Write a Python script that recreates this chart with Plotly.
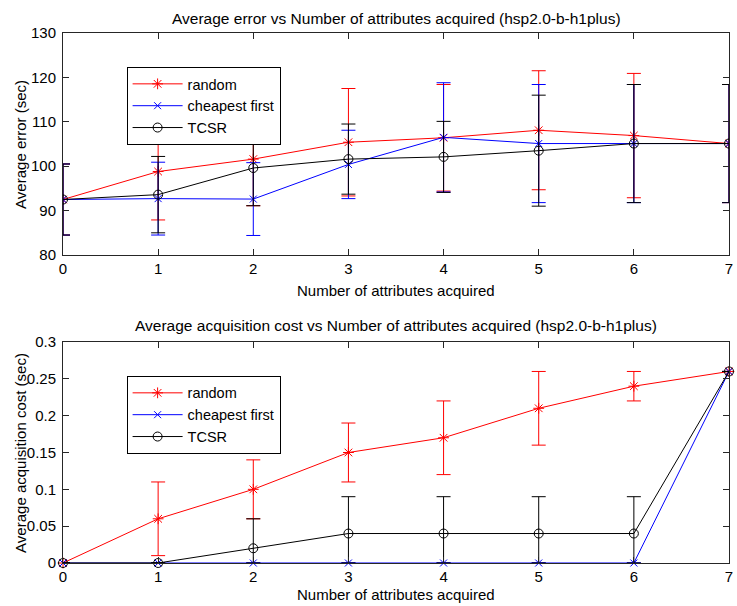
import plotly.graph_objects as go

# ---------------- data ----------------
n_attr = [0, 1, 2, 3, 4, 5, 6, 7]
x_ticks = [0, 1, 2, 3, 4, 5, 6, 7]

# average error (sec)
random_err = [92.5, 98.8, 101.6, 105.4, 106.4, 108.1, 106.9, 105.1]
random_err_sd = [8.0, 10.9, 10.5, 12.1, 12.0, 13.4, 14.0, 13.3]
cheap_err = [92.5, 92.7, 92.6, 100.4, 106.5, 105.1, 105.1, 105.1]
cheap_err_sd = [8.0, 8.2, 8.2, 7.7, 12.3, 13.3, 13.3, 13.3]
tcsr_err = [92.5, 93.6, 99.6, 101.6, 102.1, 103.5, 105.1, 105.1]
tcsr_err_sd = [8.0, 8.6, 8.5, 7.9, 8.0, 12.5, 13.3, 13.3]

# average acquisition cost (sec)
random_cost = [0.0, 0.06, 0.10, 0.15, 0.17, 0.21, 0.24, 0.26]
random_cost_sd = [0.0, 0.05, 0.04, 0.04, 0.05, 0.05, 0.02, 0.0]
cheap_cost = [0.0, 0.0, 0.0, 0.0, 0.0, 0.0, 0.0, 0.26]
cheap_cost_sd = [0.0, 0.0, 0.0, 0.0, 0.0, 0.0, 0.0, 0.0]
tcsr_cost = [0.0, 0.0, 0.02, 0.04, 0.04, 0.04, 0.04, 0.26]
tcsr_cost_sd = [0.0, 0.0, 0.04, 0.05, 0.05, 0.05, 0.05, 0.0]

series_names = ["random", "cheapest first", "TCSR"]
colors = ["#ff0000", "#0000ff", "#000000"]
symbols = ["asterisk-open", "x-thin-open", "circle-open"]
sizes = [9, 7, 9]

FONT = "Liberation Sans, Arial, sans-serif"
AX = "#262626"

fig = go.Figure()

top = [(random_err, random_err_sd), (cheap_err, cheap_err_sd), (tcsr_err, tcsr_err_sd)]
bot = [(random_cost, random_cost_sd), (cheap_cost, cheap_cost_sd), (tcsr_cost, tcsr_cost_sd)]

for i, (m, s) in enumerate(top):
    fig.add_trace(go.Scatter(
        x=n_attr, y=m, name=series_names[i], mode="lines+markers",
        line=dict(color=colors[i], width=1),
        marker=dict(symbol=symbols[i], size=sizes[i], color=colors[i], line=dict(width=1, color=colors[i])),
        error_y=dict(type="data", array=s, visible=True, color=colors[i], thickness=1, width=7),
        xaxis="x", yaxis="y", legend="legend",
    ))

for i, (m, s) in enumerate(bot):
    # lower whiskers are drawn only down to the axis floor (0)
    minus = [min(sv, mv) for sv, mv in zip(s, m)]
    fig.add_trace(go.Scatter(
        x=n_attr, y=m, name=series_names[i], mode="lines+markers",
        line=dict(color=colors[i], width=1),
        marker=dict(symbol=symbols[i], size=sizes[i], color=colors[i], line=dict(width=1, color=colors[i])),
        error_y=dict(type="data", array=s, arrayminus=minus, symmetric=False, visible=True,
                     color=colors[i], thickness=1, width=7),
        cliponaxis=False,
        xaxis="x2", yaxis="y2", legend="legend2",
    ))

axis_common = dict(
    showline=True, linecolor=AX, linewidth=1, mirror="ticks",
    ticks="inside", ticklen=6, tickcolor=AX, tickwidth=1,
    showgrid=False, zeroline=False, ticklabeloverflow="allow",
    tickfont=dict(family=FONT, size=15, color="#000000"),
)

legend_common = dict(
    bgcolor="#ffffff", bordercolor="#000000", borderwidth=1,
    font=dict(family=FONT, size=14.5, color="#000000"),
    xanchor="left", yanchor="top", itemwidth=50, tracegroupgap=0,
)

fig.update_layout(
    width=737, height=606,
    margin=dict(l=63, r=4, t=33, b=43),
    paper_bgcolor="#ffffff", plot_bgcolor="#ffffff",
    font=dict(family=FONT, size=15, color="#000000"),
    xaxis=dict(axis_common, domain=[0, 1], range=[0, 7], tickvals=x_ticks, anchor="y"),
    yaxis=dict(axis_common, domain=[0.5811, 1.0], range=[80, 130], dtick=10, anchor="x",
               ticklabelstandoff=3),
    xaxis2=dict(axis_common, domain=[0, 1], range=[0, 7], tickvals=x_ticks, anchor="y2"),
    yaxis2=dict(axis_common, domain=[0, 0.417], range=[0, 0.3], dtick=0.05, anchor="x2",
                ticklabelstandoff=3),
    legend=dict(legend_common, x=0.0955, y=0.936),
    legend2=dict(legend_common, x=0.0955, y=0.353),
    showlegend=True,
)

ann = [
    dict(text="Average error vs Number of attributes acquired (hsp2.0-b-h1plus)", x=0.5, y=1.028),
    dict(text="Number of attributes acquired", x=0.5, y=0.515),
    dict(text="Average acquisition cost vs Number of attributes acquired (hsp2.0-b-h1plus)", x=0.5, y=0.449),
    dict(text="Number of attributes acquired", x=0.5, y=-0.060),
    dict(text="Average error (sec)", x=-0.064, y=(563 - 144.5) / 530, textangle=-90),
    dict(text="Average acquisition cost (sec)", x=-0.064, y=(563 - 452.5) / 530, textangle=-90),
]
for i, a in enumerate(ann):
    size = 15.5 if i in (0, 2) else 15
    fig.add_annotation(xref="paper", yref="paper", showarrow=False,
                       xanchor="center", yanchor="middle",
                       font=dict(family=FONT, size=size, color="#000000"), **a)

fig.write_html("out.html", config={"displayModeBar": False},
               post_script="document.body.style.margin='0';document.body.style.overflow='hidden';")
